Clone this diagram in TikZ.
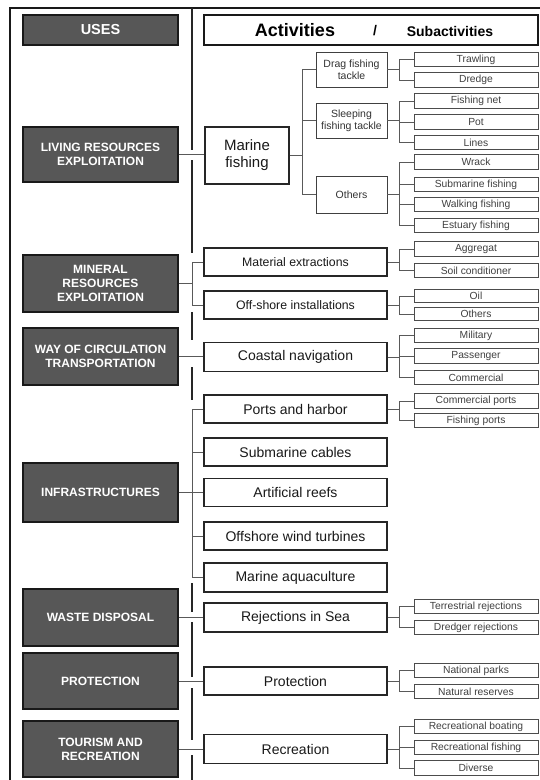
\documentclass[tikz,border=0pt]{standalone}
\usepackage{fontspec}
\setmainfont{Liberation Sans}
\definecolor{usegray}{HTML}{575757}
\newcommand\mytree[5]{%
  \draw[conn] (#1.east) -- (#1.east -| #2);
  \draw[conn] (#3.west -| #2) -- (#4.west -| #2);
  \foreach \ch in {#5} {\draw[conn] (\ch.west -| #2) -- (\ch.west);}
}
\begin{document}
\begin{tikzpicture}[x=1pt,y=-1pt,
  usebox/.style={draw=black!90, line width=1.2pt, fill=usegray, text=white,
    font=\bfseries\fontsize{12}{14}\selectfont, align=center, inner sep=0pt, minimum width=155pt},
  actbox/.style={draw=black!85, line width=1.1pt, fill=white, text=black!90,
    font=\fontsize{14}{16}\selectfont, align=center, inner sep=0pt, minimum width=183pt},
  midbox/.style={draw=black!75, line width=0.9pt, fill=white, text=black!80,
    font=\fontsize{10.5}{12}\selectfont, align=center, inner sep=0pt, minimum width=71pt},
  subbox/.style={draw=black!70, line width=0.8pt, fill=white, text=black!75,
    font=\fontsize{10.3}{12}\selectfont, inner sep=0pt, minimum width=124pt, minimum height=14.5pt},
  conn/.style={draw=black!65, line width=0.8pt},
  divider/.style={draw=black!85, line width=1.8pt},
  frameline/.style={draw=black!90, line width=1.5pt}]
\clip (0,0) rectangle (540,780);
\fill[white] (0,0) rectangle (540,780);

% frame and divider
\draw[frameline] (10,790) -- (10,8) -- (550,8);
\foreach \a/\b in {8/150, 160/253, 312/340, 367/400, 583/612, 622/677, 688/740, 755/790}
  \draw[divider] (192,\a) -- (192,\b);

\coordinate (tr) at (192,0);
\coordinate (mx) at (302,0);
\coordinate (sx) at (399,0);

% header
\node[usebox, minimum height=30pt, font=\bfseries\fontsize{14.5}{16}\selectfont] (uses) at (100.5,30) {USES};
\node[draw=black!90, line width=1.2pt, fill=white, minimum width=334pt, minimum height=30pt, inner sep=0pt] (head) at (371,30) {};
\node[font=\bfseries\fontsize{18}{20}\selectfont, inner sep=0pt] (hact) at (295,30) {Activities};
\node[font=\bfseries\fontsize{14}{16}\selectfont, inner sep=0pt] (hsl) at (375,31) {/};
\node[font=\bfseries\fontsize{14}{16}\selectfont, inner sep=0pt] (hsub) at (450,31) {Subactivities};

% uses
\node[usebox, minimum height=55pt] (living) at (100.5,154.5) {LIVING RESOURCES\\EXPLOITATION};
\node[usebox, minimum height=57pt] (mineral) at (100.5,283.5) {MINERAL\\RESOURCES\\EXPLOITATION};
\node[usebox, minimum height=57pt] (way) at (100.5,356.5) {WAY OF CIRCULATION\\TRANSPORTATION};
\node[usebox, minimum height=59pt] (infra) at (100.5,492.5) {INFRASTRUCTURES};
\node[usebox, minimum height=57pt] (waste) at (100.5,617.5) {WASTE DISPOSAL};
\node[usebox, minimum height=56pt] (prot) at (100.5,681) {PROTECTION};
\node[usebox, minimum height=56pt] (tour) at (100.5,749) {TOURISM AND\\RECREATION};

% activities
\node[actbox, minimum width=84pt, minimum height=57pt, font=\fontsize{15}{17}\selectfont] (marine) at (247,155.5) {Marine\\fishing};
\node[actbox, minimum height=28pt, font=\fontsize{12.3}{14}\selectfont] (mat) at (295.5,262) {Material extractions};
\node[actbox, minimum height=28pt, font=\fontsize{12.3}{14}\selectfont] (off) at (295.5,305) {Off-shore installations};
\node[actbox, minimum height=29pt] (coast) at (295.5,357) {Coastal navigation};
\node[actbox, minimum height=28pt] (ports) at (295.5,409) {Ports and harbor};
\node[actbox, minimum height=28pt] (subm) at (295.5,452) {Submarine cables};
\node[actbox, minimum height=28pt] (reefs) at (295.5,492.5) {Artificial reefs};
\node[actbox, minimum height=28pt] (wind) at (295.5,536) {Offshore wind turbines};
\node[actbox, minimum height=29pt] (aqua) at (295.5,577.5) {Marine aquaculture};
\node[actbox, minimum height=29pt] (rej) at (295.5,617.5) {Rejections in Sea};
\node[actbox, minimum height=28pt] (protw) at (295.5,681) {Protection};
\node[actbox, minimum height=29pt] (recr) at (295.5,749) {Recreation};

% fishing tackle
\node[midbox, minimum height=35pt] (drag) at (351.5,69.5) {Drag fishing\\tackle};
\node[midbox, minimum height=35pt] (sleep) at (351.5,120.5) {Sleeping\\fishing tackle};
\node[midbox, minimum height=37pt] (oth) at (351.5,194.5) {Others};

% subactivities
\node[subbox] (trawl) at (476,59.5) {Trawling};
\node[subbox] (dredge) at (476,80) {Dredge};
\node[subbox] (fnet) at (476,101) {Fishing net};
\node[subbox] (pot) at (476,122) {Pot};
\node[subbox] (lines) at (476,142.5) {Lines};
\node[subbox] (wrack) at (476,162) {Wrack};
\node[subbox] (subf) at (476,184.5) {Submarine fishing};
\node[subbox] (walk) at (476,204.5) {Walking fishing};
\node[subbox] (estu) at (476,225.5) {Estuary fishing};
\node[subbox] (aggr) at (476,249) {Aggregat};
\node[subbox] (soil) at (476,270.5) {Soil conditioner};
\node[subbox, minimum height=12.5pt] (oil) at (476,296) {Oil};
\node[subbox, minimum height=12.5pt] (oth2) at (476,314) {Others};
\node[subbox] (mil) at (476,335.5) {Military};
\node[subbox] (pass) at (476,356) {Passenger};
\node[subbox] (comm) at (476,377.5) {Commercial};
\node[subbox] (cports) at (476,401) {Commercial ports};
\node[subbox] (fports) at (476,420.5) {Fishing ports};
\node[subbox, minimum height=13.5pt] (terr) at (476,606.5) {Terrestrial rejections};
\node[subbox] (dredr) at (476,627.5) {Dredger rejections};
\node[subbox] (npark) at (476,670.5) {National parks};
\node[subbox] (nres) at (476,691.5) {Natural reserves};
\node[subbox] (rboat) at (476,726.5) {Recreational boating};
\node[subbox] (rfish) at (476,747.5) {Recreational fishing};
\node[subbox] (div) at (476,768) {Diverse};

% connectors: uses -> activities
\draw[conn] (living.east) -- (living.east -| marine.west);
\mytree{mineral}{tr}{mat}{off}{mat,off}
\draw[conn] (way.east) -- (way.east -| coast.west);
\mytree{infra}{tr}{ports}{aqua}{ports,subm,reefs,wind,aqua}
\draw[conn] (waste.east) -- (waste.east -| rej.west);
\draw[conn] (prot.east) -- (prot.east -| protw.west);
\draw[conn] (tour.east) -- (tour.east -| recr.west);

% marine fishing tree
\mytree{marine}{mx}{drag}{oth}{drag,sleep,oth}

% subactivity trees
\mytree{drag}{sx}{trawl}{dredge}{trawl,dredge}
\mytree{sleep}{sx}{fnet}{lines}{fnet,pot,lines}
\mytree{oth}{sx}{wrack}{estu}{wrack,subf,walk,estu}
\mytree{mat}{sx}{aggr}{soil}{aggr,soil}
\mytree{off}{sx}{oil}{oth2}{oil,oth2}
\mytree{coast}{sx}{mil}{comm}{mil,pass,comm}
\mytree{ports}{sx}{cports}{fports}{cports,fports}
\mytree{rej}{sx}{terr}{dredr}{terr,dredr}
\mytree{protw}{sx}{npark}{nres}{npark,nres}
\mytree{recr}{sx}{rboat}{div}{rboat,rfish,div}
\end{tikzpicture}
\end{document}
